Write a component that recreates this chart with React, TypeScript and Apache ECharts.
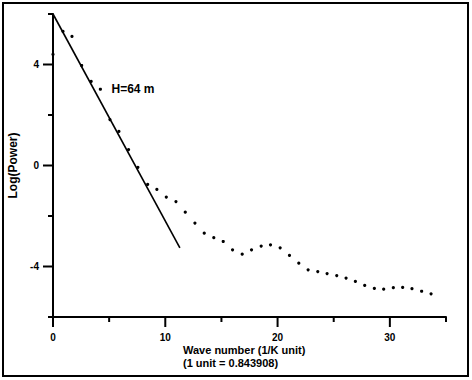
import React, { useEffect, useRef } from "react";
import * as echarts from "echarts";

const waveNumbers = [
  0, 0.89, 1.69, 2.55, 3.4, 4.22, 5.07, 5.87, 6.73, 7.56, 8.43, 9.25, 10.09,
  10.95, 11.78, 12.64, 13.47, 14.32, 15.16, 15.99, 16.85, 17.68, 18.54, 19.37,
  20.23, 21.06, 21.89, 22.72, 23.58, 24.41, 25.27, 26.1, 26.93, 27.76, 28.62,
  29.45, 30.31, 31.14, 31.97, 32.83, 33.67,
];
const logPower = [
  4.4, 5.31, 5.11, 3.96, 3.33, 3.02, 1.82, 1.35, 0.63, -0.07, -0.75, -0.95,
  -1.25, -1.43, -1.85, -2.28, -2.68, -2.86, -3.01, -3.34, -3.51, -3.34, -3.19,
  -3.14, -3.26, -3.56, -3.87, -4.13, -4.2, -4.28, -4.36, -4.46, -4.59, -4.75,
  -4.87, -4.9, -4.84, -4.83, -4.88, -4.98, -5.08,
];
const fitLineX = [0, 11.3];
const fitLineY = [6, -3.26];
const annotationIndex = 5;
const annotationText = "H=64 m";
const xAxisTitle = "Wave number (1/K unit)\n(1 unit = 0.843908)";
const yAxisTitle = "Log(Power)";
const xRange = [0, 35];
const yRange = [-6, 6];
const xMajorTicks = [0, 10, 20, 30];
const xMinorTicks = [5, 15, 25, 35];
const yMajorTicks = [-4, 0, 4];
const yMinorTicks = [-6, -2, 2, 6];

export default function App() {
  const ref = useRef<HTMLDivElement>(null);
  useEffect(() => {
    if (!ref.current) return;
    const chart = echarts.init(ref.current, null, { renderer: "svg" });
    const font = "Arial, 'Liberation Sans', sans-serif";
    const labelStyle = {
      color: "#000",
      fontSize: 10,
      fontWeight: "bold" as const,
      fontFamily: font,
    };
    const hidden = { type: "value" as const, show: false, min: 0, max: 1 };
    const tickItems = [
      ...xMajorTicks.map((v) => [v, 0]),
      ...xMinorTicks.map((v) => [v, 1]),
      ...yMajorTicks.map((v) => [v, 2]),
      ...yMinorTicks.map((v) => [v, 3]),
    ];
    const tickLen = [10, 5, 10, 5];
    chart.setOption({
      animation: false,
      backgroundColor: "#fff",
      grid: [
        { left: 53, top: 14, width: 393, height: 303, outerBoundsMode: "none" },
        {
          left: 3,
          top: 3,
          width: 465,
          height: 373,
          show: true,
          borderColor: "#000",
          borderWidth: 2,
          backgroundColor: "transparent",
          outerBoundsMode: "none",
        },
        { left: 100, top: 300, width: 78, height: 56.5, outerBoundsMode: "none" },
      ],
      xAxis: [
        {
          type: "value",
          gridIndex: 0,
          min: xRange[0],
          max: xRange[1],
          interval: 5,
          splitLine: { show: false },
          axisLine: { show: true, onZero: false, lineStyle: { color: "#000", width: 2 } },
          axisTick: { show: false },
          axisLabel: { customValues: xMajorTicks, margin: 15, ...labelStyle },
        },
        { ...hidden, gridIndex: 1 },
        {
          type: "value",
          gridIndex: 2,
          min: 0,
          max: 1,
          splitLine: { show: false },
          axisLine: { show: false, onZero: false },
          axisTick: { show: false },
          axisLabel: { show: false },
          name: xAxisTitle,
          nameLocation: "end",
          nameGap: 5,
          nameTextStyle: {
            color: "#000",
            fontSize: 11,
            fontWeight: "bold",
            fontFamily: font,
            lineHeight: 13,
            align: "left",
            verticalAlign: "middle",
          },
        },
      ],
      yAxis: [
        {
          type: "value",
          gridIndex: 0,
          min: yRange[0],
          max: yRange[1],
          interval: 2,
          splitLine: { show: false },
          axisLine: { show: true, onZero: false, lineStyle: { color: "#000", width: 2 } },
          axisTick: { show: false },
          axisLabel: { customValues: yMajorTicks, margin: 14, ...labelStyle },
          name: yAxisTitle,
          nameLocation: "middle",
          nameGap: 25,
          nameRotate: 90,
          nameTextStyle: {
            color: "#000",
            fontSize: 12,
            fontWeight: "bold",
            fontFamily: font,
          },
        },
        { ...hidden, gridIndex: 1 },
        { ...hidden, gridIndex: 2 },
      ],
      series: [
        {
          type: "custom",
          coordinateSystem: "cartesian2d",
          xAxisIndex: 0,
          yAxisIndex: 0,
          clip: false,
          silent: true,
          z: 10,
          data: tickItems,
          renderItem: (_params: any, api: any) => {
            const v = api.value(0);
            const kind = api.value(1);
            const len = tickLen[kind];
            let x1: number, y1: number, w: number, h: number;
            if (kind < 2) {
              const p = api.coord([v, yRange[0]]);
              x1 = p[0] - 1;
              y1 = p[1];
              w = 2;
              h = len;
            } else {
              const p = api.coord([xRange[0], v]);
              x1 = p[0] - len;
              y1 = p[1] - 1;
              w = len;
              h = 2;
            }
            return {
              type: "rect",
              shape: { x: x1, y: y1, width: w, height: h },
              style: { fill: "#000" },
            };
          },
        },
        {
          type: "scatter",
          xAxisIndex: 0,
          yAxisIndex: 0,
          symbol: "circle",
          symbolSize: 3.2,
          itemStyle: { color: "#000", opacity: 1 },
          data: waveNumbers.map((x, i) =>
            i === annotationIndex
              ? {
                  value: [x, logPower[i]],
                  label: {
                    show: true,
                    position: "right",
                    distance: 9.5,
                    formatter: annotationText,
                    color: "#000",
                    fontSize: 12,
                    fontWeight: "bold",
                    fontFamily: font,
                  },
                }
              : [x, logPower[i]]
          ),
          markLine: {
            silent: true,
            symbol: ["none", "none"],
            label: { show: false },
            lineStyle: { color: "#000", width: 1.6, type: "solid", opacity: 1 },
            data: [
              [
                { coord: [fitLineX[0], fitLineY[0]] },
                { coord: [fitLineX[1], fitLineY[1]] },
              ],
            ],
          },
        },
      ],
    });
    return () => chart.dispose();
  }, []);
  return (
    <div
      ref={ref}
      style={{ position: "fixed", left: 0, top: 0, width: 472, height: 380 }}
    />
  );
}
